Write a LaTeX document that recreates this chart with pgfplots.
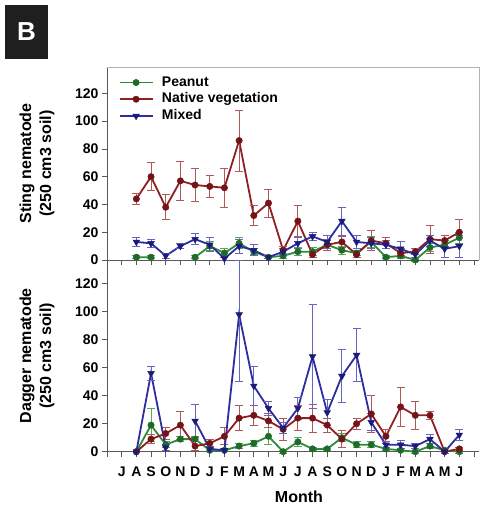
\documentclass[border=0pt]{standalone}
\usepackage{fontspec}
\setmainfont{Liberation Sans}
\usepackage{pgfplots}
\usepackage{pgfplotstable}
\pgfplotsset{compat=1.18}

\definecolor{cpea}{HTML}{2E8B3A}
\definecolor{cpeam}{HTML}{1E6A28}
\definecolor{cpeae}{HTML}{58A858}
\definecolor{cnat}{HTML}{8E1F22}
\definecolor{cnatm}{HTML}{741418}
\definecolor{cnate}{HTML}{B05858}
\definecolor{cmix}{HTML}{2D2D9E}
\definecolor{cmixm}{HTML}{1B1B7C}
\definecolor{cmixe}{HTML}{6464C4}

% sting nematode: peanut, native vegetation, mixed (mean, s.e.)
\pgfplotstableread{
x  p   pe n  ne m  me
1  2   1  44 4  13 3
2  2   1  60 10 12 3
3  nan 0  38 9  3  2
4  nan 0  57 14 10 2
5  2   1  54 12 15 4
6  10  3  53 8  11 5
7  5   3  52 14 1  1
8  12  4  86 22 10 5
9  6   2  32 7  7  4
10 2   1  41 10 2  1
11 3   2  7  3  6  2
12 6   3  28 11 12 4
13 6   3  4  2  17 3
14 11  4  11 4  13 5
15 7   3  13 4  28 10
16 5   2  4  2  13 5
17 13  4  14 7  12 4
18 2   1  12 4  11 3
19 3   2  5  3  8  5
20 0   1  6  2  4  2
21 9   3  15 10 14 4
22 11  3  14 4  8  6
23 16  4  20 9  10 8
}\tabsting

% dagger nematode
\pgfplotstableread{
x  p  pe n  ne m   mp mm
1  0  0  0  0  0   0  0
2  19 12 9  3  56  5  5
3  5  2  13 4  3   2  2
4  9  2  19 10 nan 0  0
5  9  2  4  3  22  12 12
6  1  1  6  3  2   2  2
7  1  1  11 6  1   1  1
8  4  2  24 9  98  39 48
9  6  2  26 7  47  14 14
10 11 6  22 5  31  5  5
11 0  1  16 8  17  4  4
12 7  3  24 9  31  8  8
13 2  1  24 10 68  37 37
14 2  1  19 5  28  9  9
15 10 3  9  6  54  19 19
16 5  2  20 4  69  19 19
17 5  2  27 13 21  6  6
18 2  1  11 5  5   2  2
19 1  1  32 14 5   3  3
20 0  1  26 10 4   2  2
21 4  2  26 3  9   3  3
22 1  1  0  1  0   1  1
23 0  1  2  1  12  4  4
}\tabdagger

\pgfplotsset{
  panel/.style={
    scale only axis, width=372bp,
    xmin=-1, xmax=24.34, ymin=0,
    axis x line*=bottom, axis y line*=left,
    tick align=outside, major tick length=5bp,
    xtick={-1,...,24}, ytick={0,20,...,120},
    axis line style={draw=black!65, line width=0.8bp},
    tick style={draw=black!65, line width=0.8bp},
    tick label style={font=\fontsize{14bp}{16bp}\selectfont\bfseries},
    /pgf/number format/assume math mode=true,
    clip=false, unbounded coords=jump,
    ylabel style={at={(axis description cs:-0.188,0.5)}, anchor=center,
      align=center, font=\fontsize{16bp}{20bp}\selectfont\bfseries},
    error bars/error bar style={line width=0.9bp},
    legend image code/.code={
      \draw[mark repeat=2,mark phase=2,##1] plot coordinates {(0bp,0bp) (16.5bp,0bp) (33bp,0bp)};},
  },
  pea/.style={cpea, line width=1.8bp, mark=*, mark size=3.2bp,
    mark options={fill=cpeam, draw=cpeam, line width=0.5bp},
    error bars/.cd, y dir=both, y explicit, error mark=-,
    error bar style={cpeae}, error mark options={cpeae, rotate=90, mark size=4bp, line width=0.9bp}},
  nat/.style={cnat, line width=1.8bp, mark=*, mark size=3.2bp,
    mark options={fill=cnatm, draw=cnatm, line width=0.5bp},
    error bars/.cd, y dir=both, y explicit, error mark=-,
    error bar style={cnate}, error mark options={cnate, rotate=90, mark size=4bp, line width=0.9bp}},
  mix/.style={cmix, line width=1.8bp, mark=triangle*, mark size=3.8bp,
    mark options={fill=cmixm, draw=cmixm, line width=0.5bp, rotate=180},
    error bars/.cd, y dir=both, y explicit, error mark=-,
    error bar style={cmixe}, error mark options={cmixe, rotate=90, mark size=4bp, line width=0.9bp}},
}

\begin{document}
\begin{tikzpicture}
\useasboundingbox (0,0) rectangle (483bp,512bp);

% panel letter
\fill[black!88] (5bp,453bp) rectangle (48bp,507bp);
\node[white, font=\fontsize{26bp}{28bp}\selectfont\bfseries] at (26.5bp,480bp) {B};

% top panel: sting nematode
\begin{axis}[panel, at={(107bp,252bp)}, anchor=south west,
  height=193bp, ymax=139, xticklabels={},
  ylabel={Sting nematode\\(250 cm3 soil)},
  legend style={at={(axis description cs:0,1)}, anchor=north west,
    draw=none, fill=none, inner sep=0pt, xshift=11.5bp, yshift=-7.5bp,
    font=\fontsize{14bp}{16bp}\selectfont\bfseries,
    nodes={inner sep=1.5bp, text height=10bp, text depth=2.7bp},
    row sep=1bp, cells={anchor=west},
    /tikz/every odd column/.append style={column sep=7bp}}]
\draw[black!30, line width=0.8bp] (rel axis cs:0,1) -- (rel axis cs:1,1) -- (rel axis cs:1,0);
\addplot+[pea] table[x=x, y=p, y error=pe] {\tabsting};
\addplot+[nat] table[x=x, y=n, y error=ne] {\tabsting};
\addplot+[mix] table[x=x, y=m, y error=me] {\tabsting};
\legend{Peanut, Native vegetation, Mixed}
\end{axis}

% bottom panel: dagger nematode
\begin{axis}[panel, at={(107bp,60.3bp)}, anchor=south west,
  height=191.7bp, ymax=137,
  xticklabels={,J,A,S,O,N,D,J,F,M,A,M,J,J,A,S,O,N,D,J,F,M,A,M,J,},
  xticklabel style={yshift=-7bp},
  ylabel={Dagger nematode\\(250 cm3 soil)},
  xlabel={Month},
  xlabel style={at={(axis description cs:0.516,0)}, anchor=center, yshift=-45bp,
    font=\fontsize{16bp}{18bp}\selectfont\bfseries}]
\addplot+[pea] table[x=x, y=p, y error=pe] {\tabdagger};
\addplot+[nat] table[x=x, y=n, y error=ne] {\tabdagger};
\addplot+[mix] table[x=x, y=m, y error plus=mp, y error minus=mm] {\tabdagger};
\end{axis}
\end{tikzpicture}
\end{document}
